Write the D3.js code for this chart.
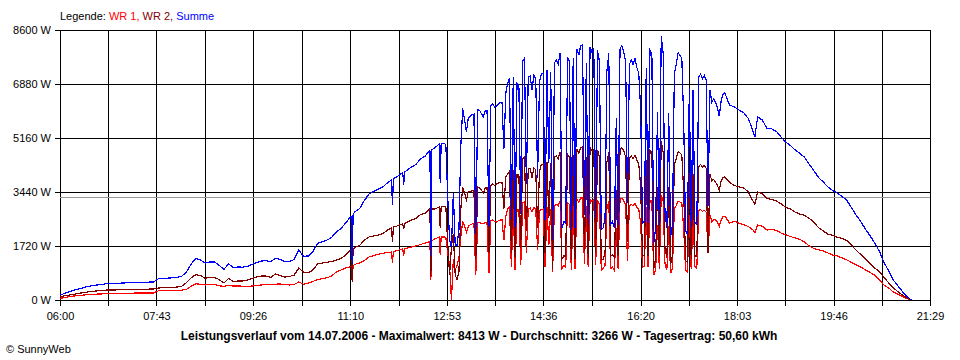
<!DOCTYPE html>
<html><head><meta charset="utf-8">
<script src="https://cdn.jsdelivr.net/npm/d3@7"></script>
<style>
html,body{margin:0;padding:0;background:#fff;}
svg{display:block;}
</style></head><body>
<svg id="chart" width="960" height="360"></svg>
<script>
// ---- data ----
const times = [
"06:00","06:05","06:10","06:15","06:20","06:25","06:30","06:35","06:40","06:45","06:50","06:55",
"07:00","07:05","07:10","07:15","07:20","07:25","07:30","07:35","07:40","07:45","07:50","07:55",
"08:00","08:05","08:10","08:15","08:20","08:25","08:30","08:35","08:40","08:45","08:50","08:55",
"09:00","09:05","09:10","09:15","09:20","09:25","09:30","09:35","09:40","09:45","09:50","09:55",
"10:00","10:05","10:10","10:15","10:20","10:25","10:30","10:35","10:40","10:45","10:50","10:55",
"11:00","11:05","11:10","11:11","11:12","11:13","11:15","11:20","11:25","11:30","11:35","11:40","11:45","11:50","11:54","11:55","11:56",
"12:00","12:06","12:07","12:08","12:10","12:15","12:20","12:25","12:30","12:35","12:36","12:37","12:40","12:45","12:46","12:47","12:50",
"12:52","12:54","12:56","12:58",
"13:00","13:02","13:04","13:06","13:08","13:10","13:12","13:14","13:16","13:18","13:20","13:22","13:24","13:26","13:28","13:30","13:32","13:34","13:36","13:38","13:40","13:42","13:44","13:46","13:48","13:50","13:52","13:54","13:56","13:58",
"14:00","14:02","14:04","14:06","14:08","14:10","14:12","14:14","14:16","14:18","14:20","14:22","14:24","14:26","14:28","14:30","14:32","14:34","14:36","14:38","14:40","14:42","14:44","14:46","14:48","14:50","14:52","14:54","14:56","14:58",
"15:00","15:02","15:04","15:06","15:08","15:10","15:12","15:14","15:16","15:18","15:20","15:22","15:24","15:26","15:28","15:30","15:32","15:34","15:36","15:38","15:40","15:42","15:44","15:46","15:48","15:50","15:52","15:54","15:56","15:58",
"16:00","16:02","16:04","16:06","16:08","16:10","16:12","16:14","16:16","16:18","16:20","16:22","16:24","16:26","16:28","16:30","16:32","16:34","16:36","16:38","16:40","16:42","16:44","16:46","16:48","16:50","16:52","16:54","16:56","16:58",
"17:00","17:02","17:04","17:06","17:08","17:10","17:12","17:14","17:16","17:18","17:20","17:22","17:24","17:26","17:28","17:30","17:32","17:34","17:36","17:38","17:40","17:42","17:44","17:46",
"17:48","17:50","17:55",
"18:00","18:05","18:10","18:15","18:20","18:22","18:25","18:30","18:35","18:40","18:45","18:50","18:55",
"19:00","19:05","19:10","19:15","19:20","19:25","19:30","19:35","19:40","19:45","19:50","19:55",
"20:00","20:05","20:10","20:15","20:20","20:25","20:30","20:35","20:40","20:45","20:50","20:55",
"21:00","21:05","21:09"
];
// WR 1 (W)
const wr1 = [
54,76,105,127,140,156,175,185,188,194,207,210,
213,213,217,217,220,220,223,223,226,293,296,299,
303,309,315,341,440,516,503,478,490,490,452,433,
462,446,446,440,433,446,462,478,490,500,503,510,
494,478,494,573,503,541,589,653,678,707,764,892,
955,1019,1061,1070,600,1100,1137,1178,1258,1370,1417,1459,1487,1513,1530,1178,1545,
1576,1625,1401,1635,1647,1682,1720,1768,1815,1857,640,1890,1943,2007,1433,2007,2007,
2000,1500,1100,0,
1300,950,1100,1350,2000,2500,2350,2150,2350,2390,2420,2440,800,2460,2460,2440,2440,2460,2460,850,2540,2550,2500,2480,2520,2550,2550,1900,2650,2900,
2970,1050,2950,950,2900,2850,1100,3100,3130,1500,2900,2930,2800,2950,2900,1600,2850,2880,2900,1050,2950,1750,2900,900,3000,3050,3000,3150,1000,1100,
1050,3100,3050,950,3080,1000,3200,3120,3250,3250,1150,3000,1050,3200,3150,3200,1100,3180,3050,950,1000,1100,2900,3150,1000,1050,950,2300,1000,3200,
3250,3150,3050,1250,3000,3050,3000,3080,2950,2900,2450,1050,1080,2950,1050,3180,3150,800,950,2400,1000,3350,3150,1150,950,2350,850,1000,2900,3000,
3150,3120,3080,2250,950,900,2700,980,2680,1050,1000,2850,2880,2820,2860,2800,1500,2700,2500,2560,2550,2480,2350,2550,
2650,2675,2450,
2510,2450,2400,2340,2230,2150,2390,2350,2230,2250,2220,2130,2080,
2020,1980,1930,1850,1720,1640,1600,1560,1500,1430,1400,1340,
1280,1200,1120,1050,960,880,790,650,470,380,250,180,
100,40,0
];
// WR 2 (W)
const wr2 = [
105,134,159,185,210,236,258,277,290,303,318,318,
322,325,328,331,334,338,344,347,350,382,390,398,
404,412,440,554,704,809,777,694,723,720,650,541,
685,589,605,605,637,685,733,764,764,717,828,780,
733,748,796,1019,892,860,956,1147,1178,1201,1226,1274,
1322,1433,1577,1590,560,1630,1672,1736,1911,2007,2038,2070,2118,2230,2290,1857,2320,
2357,2430,2261,2445,2468,2548,2596,2723,2771,2914,760,2900,2898,2962,2293,2965,2972,
2960,1800,800,1700,
2100,800,650,900,2900,3600,3400,3200,3450,3450,3480,3480,1300,3600,3580,3500,3400,3570,3580,1500,3650,3700,3650,3700,3720,3750,3750,2900,3930,4000,
4100,1500,4150,1350,4000,4000,1650,4500,4560,2200,4200,4200,3900,4200,4150,2300,4100,4320,4330,1500,4380,2610,4350,1000,4550,4590,4500,4720,1300,1400,
1400,4640,4550,1280,4620,1300,4800,4680,4850,4870,1550,4550,1350,4860,4750,4800,1500,4770,4550,1300,1300,1500,4400,4700,1400,1450,1350,3500,1400,4800,
4850,4750,4550,1850,4500,4600,4500,4620,4450,4330,3650,1400,1420,4450,1400,4770,4700,1000,1350,3600,1400,5063,4720,1650,1350,3600,1150,1400,4300,4500,
4720,4680,4620,3450,1250,1200,4050,1320,4020,1400,1400,4250,4320,4230,4290,4200,1500,4000,3800,3840,3750,3650,3500,3800,
3900,3920,3750,
3650,3600,3570,3440,3150,3050,3440,3380,3230,3200,3150,3060,2950,
2900,2800,2740,2700,2600,2480,2300,2200,2100,2060,2000,1960,
1900,1750,1590,1450,1300,1170,1020,900,720,540,380,260,
150,60,0
];
// Summe = WR 1 + WR 2
const summe = wr1.map((v, i) => v + wr2[i]);

const yTicks = [0, 1720, 3440, 5160, 6880, 8600];
const xTickLabels = ["06:00","07:43","09:26","11:10","12:53","14:36","16:20","18:03","19:46","21:29"];
const average = 3266;
const legendLabels = ["WR 1, ", "WR 2, ", "Summe"];
const titleText = "Leistungsverlauf vom 14.07.2006 - Maximalwert: 8413 W - Durchschnitt: 3266 W - Tagesertrag: 50,60 kWh";

// ---- drawing ----
const FONT = "'Liberation Sans', Arial, sans-serif";
const colors = ["#ff0000", "#800000", "#0000ff"];
const svg = d3.select("#chart");
const toMin = s => { const p = s.split(":"); return (+p[0]) * 60 + (+p[1]); };

const labelMins = xTickLabels.map(toMin);
const x = d3.scaleLinear().domain([labelMins[0], labelMins[labelMins.length - 1]]).range([60, 930]);
const y = d3.scaleLinear().domain([0, yTicks[yTicks.length - 1]]).range([300, 30]);

const gridMins = [];
labelMins.forEach((m, i) => { gridMins.push(m); if (i < labelMins.length - 1) gridMins.push((m + labelMins[i + 1]) / 2); });

// vertical grid + x labels
svg.append("g")
  .attr("transform", "translate(0,306)")
  .call(d3.axisBottom(x).tickValues(gridMins).tickSizeInner(-276).tickSizeOuter(0).tickPadding(6)
    .tickFormat(m => { const i = labelMins.indexOf(m); return i >= 0 ? xTickLabels[i] : ""; }))
  .call(g => g.select(".domain").remove())
  .attr("font-family", FONT).attr("font-size", 11)
  .call(g => g.selectAll("line").attr("stroke", "#000").attr("shape-rendering", "crispEdges"))
  .call(g => g.selectAll("text").attr("fill", "#000"));

// horizontal grid + y labels
svg.append("g")
  .attr("transform", "translate(55,0)")
  .call(d3.axisLeft(y).tickValues(yTicks).tickSizeInner(-875).tickSizeOuter(0).tickPadding(4)
    .tickFormat(d => d + " W"))
  .call(g => g.select(".domain").remove())
  .attr("font-family", FONT).attr("font-size", 11)
  .call(g => g.selectAll("line").attr("stroke", "#000").attr("shape-rendering", "crispEdges"))
  .call(g => g.selectAll("text").attr("fill", "#000"));

// average line
const ya = Math.round(y(average)) + 0.5;
svg.append("line")
  .attr("x1", x.range()[0]).attr("x2", x.range()[1])
  .attr("y1", ya).attr("y2", ya)
  .attr("stroke", "#999999").attr("stroke-width", 1).attr("shape-rendering", "crispEdges");

// series lines
const line = d3.line().x((d, i) => x(toMin(times[i]))).y(d => y(d));
[wr1, wr2, summe].forEach((s, k) => {
  svg.append("path").datum(s)
    .attr("d", line)
    .attr("fill", "none")
    .attr("stroke", colors[k])
    .attr("stroke-width", 1.2)
    .attr("shape-rendering", "crispEdges")
    .attr("stroke-linejoin", "miter");
});

// legend
const leg = svg.append("text").attr("x", 60).attr("y", 20)
  .attr("font-family", FONT).attr("font-size", 11);
leg.append("tspan").attr("fill", "#000").text("Legende: ");
legendLabels.forEach((l, k) => leg.append("tspan").attr("fill", colors[k]).text(l));

// title
svg.append("text").attr("x", 479).attr("y", 340)
  .attr("text-anchor", "middle").attr("font-family", FONT).attr("font-size", 12)
  .attr("font-weight", "bold").attr("fill", "#000").text(titleText);

svg.append("text").attr("x", 6).attr("y", 353)
  .attr("font-family", FONT).attr("font-size", 11).attr("fill", "#000").text("\u00A9 SunnyWeb");
</script>
</body></html>
